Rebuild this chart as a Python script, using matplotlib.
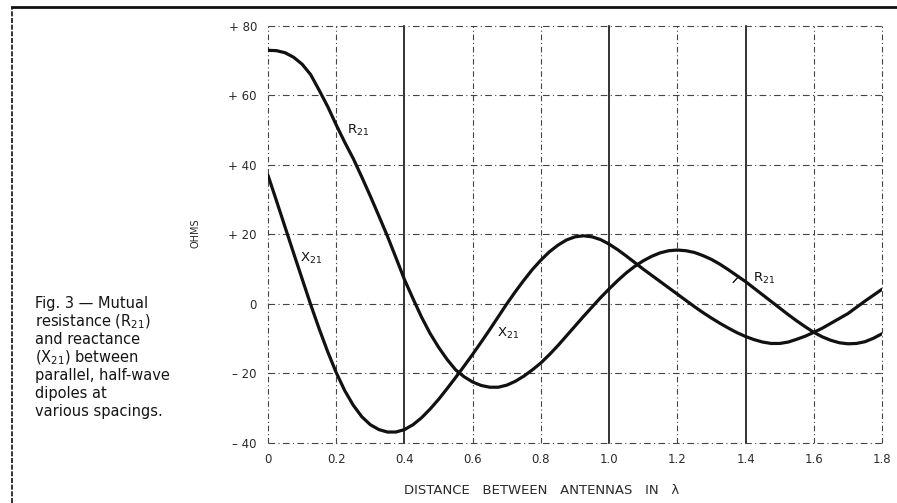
import matplotlib
matplotlib.use("Agg")
import matplotlib.pyplot as plt
from matplotlib.lines import Line2D

plt.rcParams['font.family'] = ['DejaVu Sans']

# Spacing between the two dipoles, in wavelengths
spacing = [round(0.025 * i, 3) for i in range(73)]

# Mutual resistance R21 (ohms)
r21 = [73.0, 72.9, 72.3, 71.0, 69.0, 66.0, 61.5, 56.8, 51.5, 46.5,
       41.8, 36.5, 31.0, 25.3, 19.5, 13.3, 7.0, 1.5, -3.8, -8.5,
       -12.5, -16.0, -19.0, -21.0, -22.5, -23.5, -24.0, -24.0, -23.4, -22.3,
       -20.8, -19.0, -17.0, -14.6, -12.0, -9.2, -6.4, -3.6, -0.9, 1.8,
       4.3, 6.7, 8.9, 10.8, 12.4, 13.7, 14.7, 15.3, 15.5, 15.3,
       14.8, 13.9, 12.8, 11.4, 9.8, 8.1, 6.4, 4.5, 2.6, 0.7,
       -1.2, -3.1, -4.9, -6.6, -8.2, -9.5, -10.5, -11.2, -11.5, -11.4,
       -10.9, -9.9, -8.6]

# Mutual reactance X21 (ohms)
x21 = [37.0, 29.6, 22.1, 14.6, 7.2, -0.2, -7.2, -13.8, -19.8, -25.0,
       -29.2, -32.5, -34.8, -36.2, -36.9, -36.9, -36.2, -34.8, -32.8, -30.3,
       -27.5, -24.4, -21.2, -17.9, -14.5, -11.0, -7.4, -3.7, 0.0, 3.5,
       6.8, 9.9, 12.6, 15.0, 16.9, 18.4, 19.3, 19.6, 19.3, 18.5,
       17.2, 15.6, 13.8, 11.9, 10.0, 8.2, 6.4, 4.6, 2.8, 1.0,
       -0.8, -2.5, -4.1, -5.6, -7.0, -8.3, -9.4, -10.3, -11.0, -11.4,
       -11.4, -11.0, -10.2, -9.3, -8.2, -7.0, -5.6, -4.2, -2.8, -1.0,
       0.8, 2.5, 4.2]

x_ticks = [0.0, 0.2, 0.4, 0.6, 0.8, 1.0, 1.2, 1.4, 1.6, 1.8]
x_tick_labels = ["0", "0.2", "0.4", "0.6", "0.8", "1.0", "1.2", "1.4", "1.6", "1.8"]
y_ticks = [-40, -20, 0, 20, 40, 60, 80]
y_tick_labels = ["\u2013 40", "\u2013 20", "0", "+ 20", "+ 40", "+ 60", "+ 80"]

caption_lines = ["Fig. 3 \u2014 Mutual", "resistance (R$_{21}$)", "and reactance",
                 "(X$_{21}$) between", "parallel, half-wave", "dipoles at",
                 "various spacings."]

ink = "#111111"
grey = "#2a2a2a"

fig = plt.figure(figsize=(8.97, 5.03), dpi=100)
fig.patch.set_facecolor("white")
ax = fig.add_axes([0.2988, 0.1197, 0.6845, 0.8286])
ax.set_xlim(0, 1.8)
ax.set_ylim(-40, 80)
for s in ax.spines.values():
    s.set_visible(False)

# Grid: a few heavy solid verticals, the rest broken lines
solid_cols = {0.4, 1.0, 1.4}
for xv in x_ticks:
    if round(xv, 1) in solid_cols:
        ax.axvline(xv, color=ink, lw=1.2, ls="-", clip_on=False, zorder=1)
    else:
        ax.axvline(xv, color="#444444", lw=0.8, ls=(0, (5, 2.5, 1, 2.5)),
                   clip_on=False, zorder=1)
for yv in y_ticks:
    ax.axhline(yv, color="#444444", lw=0.8, ls=(0, (6, 3, 1, 3)),
               clip_on=False, zorder=1)

ax.plot(spacing, r21, color=ink, lw=2.3, solid_capstyle="round",
        solid_joinstyle="round", zorder=3)
ax.plot(spacing, x21, color=ink, lw=2.3, solid_capstyle="round",
        solid_joinstyle="round", zorder=3)

ax.set_xticks(x_ticks)
ax.set_xticklabels(x_tick_labels, fontsize=8.5, color=grey)
ax.set_yticks(y_ticks)
ax.set_yticklabels(y_tick_labels, fontsize=8.5, color=grey)
ax.tick_params(length=0, pad=8)
ax.tick_params(axis="x", pad=7)

ax.set_xlabel("DISTANCE   BETWEEN   ANTENNAS   IN   \u03bb", fontsize=9.5, color=grey)
ax.xaxis.set_label_coords(0.445, -0.1)
fig.text(0.2175, 0.537, "OHMS", rotation=90, fontsize=7, color=grey,
         ha="center", va="center")

# Curve labels
lab = dict(fontsize=9.5, color=ink, va="center", ha="left", zorder=4)
ax.text(0.232, 50, "R$_{21}$", **lab)
ax.text(0.094, 13, "X$_{21}$", **lab)
ax.text(0.671, -8.4, "X$_{21}$", **lab)
ax.text(1.422, 7.2, "R$_{21}$", **lab)
ax.plot([1.364, 1.380], [6.2, 7.9], color=ink, lw=1.0, zorder=4)

# Caption, one evenly spaced line at a time
line_step = 18.0 / 503
for i, line in enumerate(caption_lines):
    fig.text(0.039, 1 - 308.0 / 503 - i * line_step, line, fontsize=10.5,
             color="#151515", ha="left", va="baseline")

# Page frame from the printed page
fig.add_artist(Line2D([0.013, 1.0], [0.986, 0.986], transform=fig.transFigure,
                      color=ink, lw=2.0))
fig.add_artist(Line2D([0.0135, 0.0135], [0.0, 0.986], transform=fig.transFigure,
                      color=ink, lw=1.2, ls=(0, (3, 1))))

fig.savefig("out.png", dpi=100, facecolor="white")
